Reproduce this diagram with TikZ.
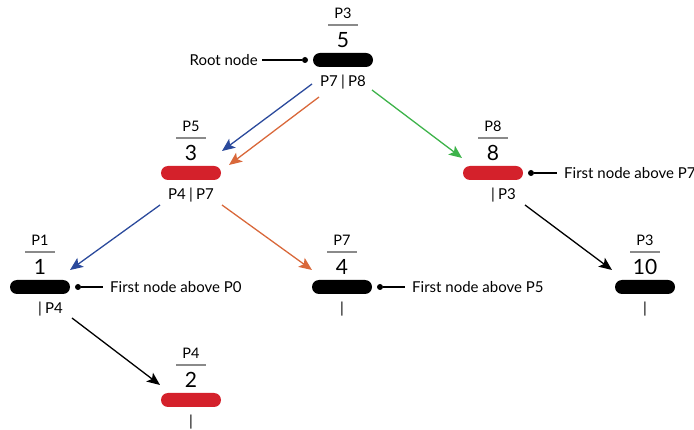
\documentclass[tikz,border=0pt]{standalone}
\usepackage{fontspec}
\setmainfont{Lato}
\usetikzlibrary{arrows.meta,calc}
\definecolor{tblue}{HTML}{2B4A9C}
\definecolor{torange}{HTML}{D9683A}
\definecolor{tgreen}{HTML}{3DB34A}
\definecolor{tred}{HTML}{D4212B}
\definecolor{rule}{HTML}{8A8A8A}
\tikzset{
  bar/.style={rectangle, rounded corners=7pt, minimum width=60pt, minimum height=14pt, inner sep=0pt, fill=black},
  redbar/.style={bar, fill=tred},
  ptag/.style={font=\fontsize{14.5}{16}\selectfont, anchor=base, inner sep=0pt},
  keynum/.style={font=\fontsize{21}{23}\selectfont, anchor=base, inner sep=0pt},
  kids/.style={font=\fontsize{15}{17}\selectfont, inner sep=0pt},
  note/.style={font=\fontsize{15}{17}\selectfont, inner sep=0pt},
  edge/.style={line width=1.3pt, -{Stealth[length=13pt,width=11pt,inset=3pt]}},
  pointer/.style={line width=1.3pt},
  dot/.style={circle, fill=black, inner sep=0pt, minimum size=6pt}
}
% one tree node: bar with process tag, key, and left | right child list
\newcommand{\treenode}[7]{%
  \node[#2] (#1) at (#3) {};
  \node[ptag] (#1-tag) at ($(#1)+(0,-41)$) {#4};
  \draw[rule, line width=1.5pt] ($(#1)+(-15,-35)$) -- ($(#1)+(15,-35)$);
  \node[keynum] (#1-key) at ($(#1)+(0,-12)$) {#5};
  \node[kids, anchor=base] (#1-bar) at ($(#1)+(0,27)$) {|};
  \node[kids, anchor=base east] (#1-left) at ($(#1)+(-5,27)$) {#6};
  \node[kids, anchor=base west] (#1-right) at ($(#1)+(5,27)$) {#7};
}
\begin{document}
\begin{tikzpicture}[x=1pt,y=-1pt]
\useasboundingbox (0,0) rectangle (694,430);

\treenode{n5}{bar}{343,60}{P3}{5}{P7}{P8}
\treenode{n3}{redbar}{191,173}{P5}{3}{P4}{P7}
\treenode{n8}{redbar}{493,173}{P8}{8}{}{P3}
\treenode{n1}{bar}{40,287}{P1}{1}{}{P4}
\treenode{n4}{bar}{342,287}{P7}{4}{}{}
\treenode{n10}{bar}{645,287}{P3}{10}{}{}
\treenode{n2}{redbar}{191,400}{P4}{2}{}{}

% pointers with their notes
\node[dot] (d5) at (305,60) {};
\node[note, anchor=east] (t5) at (258,60) {Root node};
\draw[pointer] (d5) -- (262,60);

\node[dot] (d8) at (531,173) {};
\node[note, anchor=west] (t8) at (564,173) {First node above P7};
\draw[pointer] (d8) -- (557,173);

\node[dot] (d1) at (78,287) {};
\node[note, anchor=west] (t1) at (110,287) {First node above P0};
\draw[pointer] (d1) -- (103,287);

\node[dot] (d4) at (380,287) {};
\node[note, anchor=west] (t4) at (412,287) {First node above P5};
\draw[pointer] (d4) -- (405,287);

% tree edges
\draw[edge, tblue] ($(n5)+(-31,24)$) -- ($(n3)+(31,-22)$);
\draw[edge, torange] ($(n5)+(-24,37)$) -- ($(n3)+(38,-8)$);
\draw[edge, tgreen] ($(n5)+(29,30)$) -- ($(n8)+(-31,-15)$);
\draw[edge, tblue] ($(n3)+(-31,32)$) -- ($(n1)+(30,-17)$);
\draw[edge, torange] ($(n3)+(31,32)$) -- ($(n4)+(-30,-17)$);
\draw[edge, black] ($(n8)+(32,32)$) -- ($(n10)+(-33,-17)$);
\draw[edge, black] ($(n1)+(32,31)$) -- ($(n2)+(-31,-15)$);
\end{tikzpicture}
\end{document}
